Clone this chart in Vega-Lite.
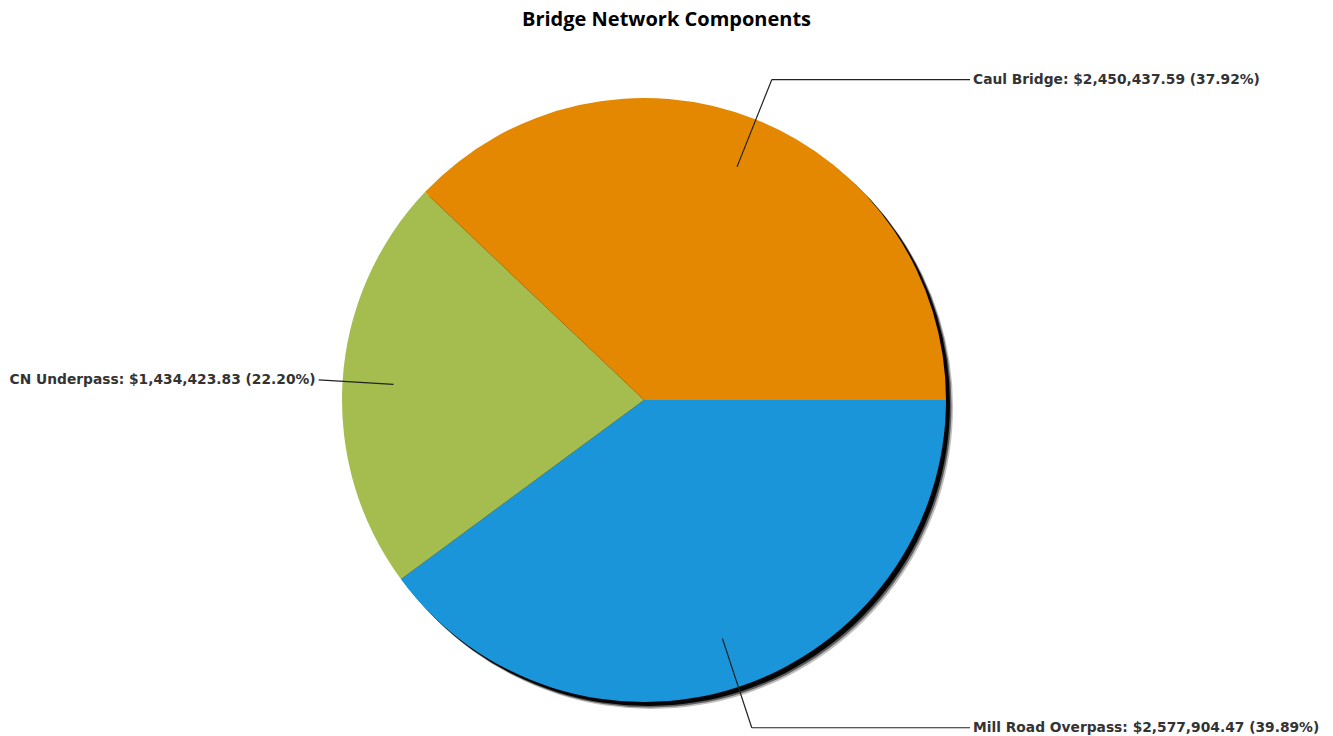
{
  "$schema": "https://vega.github.io/schema/vega-lite/v6.json",
  "autosize": "none",
  "width": 1333,
  "height": 696,
  "padding": {"left": 0, "top": 40, "right": 0, "bottom": 0},
  "background": "white",
  "title": {"text": "Bridge Network Components", "font": "Open Sans", "fontSize": 20, "fontWeight": "bold", "color": "#000000", "anchor": "middle", "offset": 10},
  "data": {"values": [
    {"component": "Mill Road Overpass", "cost": 2577904.47, "ord": 1},
    {"component": "CN Underpass", "cost": 1434423.83, "ord": 2},
    {"component": "Caul Bridge", "cost": 2450437.59, "ord": 3}
  ]},
  "transform": [
    {"joinaggregate": [{"op": "sum", "field": "cost", "as": "total"}]},
    {"window": [{"op": "sum", "field": "cost", "as": "cum"}], "sort": [{"field": "ord", "order": "ascending"}], "frame": [null, 0]},
    {"calculate": "PI/2 + 2*PI*(datum.cum - datum.cost/2)/datum.total", "as": "mid"},
    {"calculate": "sin(datum.mid) > 0", "as": "right"},
    {"calculate": "datum.right ? 345 : 326", "as": "r1"},
    {"calculate": "251*sin(datum.mid)", "as": "x0"},
    {"calculate": "-251*cos(datum.mid)", "as": "y0"},
    {"calculate": "datum.r1*sin(datum.mid)", "as": "x1"},
    {"calculate": "-datum.r1*cos(datum.mid)", "as": "y1"},
    {"calculate": "datum.right ? 326 : datum.x1", "as": "xt"},
    {"calculate": "datum.right ? datum.xt + 3 : datum.x1 - 3", "as": "lx"},
    {"calculate": "datum.component + ': ' + format(datum.cost, '$,.2f') + ' (' + format(datum.cost/datum.total, '.2%') + ')'", "as": "label"}
  ],
  "layer": [
    {
      "mark": {"type": "arc", "radius": 302, "color": "#000000", "opacity": 0.25, "xOffset": 7, "yOffset": 7},
      "encoding": {
        "x": {"datum": 0, "type": "quantitative", "scale": {"domain": [-644, 689], "nice": false, "zero": false}, "axis": null},
        "y": {"datum": 0, "type": "quantitative", "scale": {"domain": [-360, 336], "reverse": true, "nice": false, "zero": false}, "axis": null},
        "theta": {"field": "cost", "type": "quantitative", "stack": true, "scale": {"range": [1.5707963, 7.8539816]}},
        "order": {"field": "ord", "type": "quantitative"}
      }
    },
    {
      "mark": {"type": "arc", "radius": 302, "color": "#000000", "opacity": 0.5, "xOffset": 5.5, "yOffset": 5.5},
      "encoding": {
        "x": {"datum": 0, "type": "quantitative", "axis": null},
        "y": {"datum": 0, "type": "quantitative", "axis": null},
        "theta": {"field": "cost", "type": "quantitative", "stack": true, "scale": {"range": [1.5707963, 7.8539816]}},
        "order": {"field": "ord", "type": "quantitative"}
      }
    },
    {
      "mark": {"type": "arc", "radius": 302, "color": "#000000", "opacity": 0.95, "xOffset": 4, "yOffset": 4},
      "encoding": {
        "x": {"datum": 0, "type": "quantitative", "axis": null},
        "y": {"datum": 0, "type": "quantitative", "axis": null},
        "theta": {"field": "cost", "type": "quantitative", "stack": true, "scale": {"range": [1.5707963, 7.8539816]}},
        "order": {"field": "ord", "type": "quantitative"}
      }
    },
    {
      "mark": {"type": "arc", "radius": 302},
      "encoding": {
        "x": {"datum": 0, "type": "quantitative", "axis": null},
        "y": {"datum": 0, "type": "quantitative", "axis": null},
        "theta": {"field": "cost", "type": "quantitative", "stack": true, "scale": {"range": [1.5707963, 7.8539816]}},
        "order": {"field": "ord", "type": "quantitative"},
        "color": {"field": "component", "type": "nominal", "legend": null,
          "scale": {"domain": ["Mill Road Overpass", "CN Underpass", "Caul Bridge"], "range": ["#1B95D9", "#A5BC4E", "#E48701"]}}
      }
    },
    {
      "mark": {"type": "rule", "color": "#222222", "strokeWidth": 1.2},
      "encoding": {
        "x": {"field": "x0", "type": "quantitative", "axis": null},
        "y": {"field": "y0", "type": "quantitative", "axis": null},
        "x2": {"field": "x1"},
        "y2": {"field": "y1"}
      }
    },
    {
      "mark": {"type": "rule", "color": "#222222", "strokeWidth": 1.2},
      "encoding": {
        "x": {"field": "x1", "type": "quantitative", "axis": null},
        "y": {"field": "y1", "type": "quantitative", "axis": null},
        "x2": {"field": "xt"},
        "y2": {"field": "y1"}
      }
    },
    {
      "transform": [{"filter": "datum.right"}],
      "mark": {"type": "text", "align": "left", "baseline": "middle", "font": "DejaVu Sans", "fontSize": 13.8, "fontWeight": "bold", "color": "#333333"},
      "encoding": {
        "x": {"field": "lx", "type": "quantitative", "axis": null},
        "y": {"field": "y1", "type": "quantitative", "axis": null},
        "text": {"field": "label"}
      }
    },
    {
      "transform": [{"filter": "!datum.right"}],
      "mark": {"type": "text", "align": "right", "baseline": "middle", "font": "DejaVu Sans", "fontSize": 13.8, "fontWeight": "bold", "color": "#333333"},
      "encoding": {
        "x": {"field": "lx", "type": "quantitative", "axis": null},
        "y": {"field": "y1", "type": "quantitative", "axis": null},
        "text": {"field": "label"}
      }
    }
  ],
  "config": {"view": {"stroke": null}}
}
